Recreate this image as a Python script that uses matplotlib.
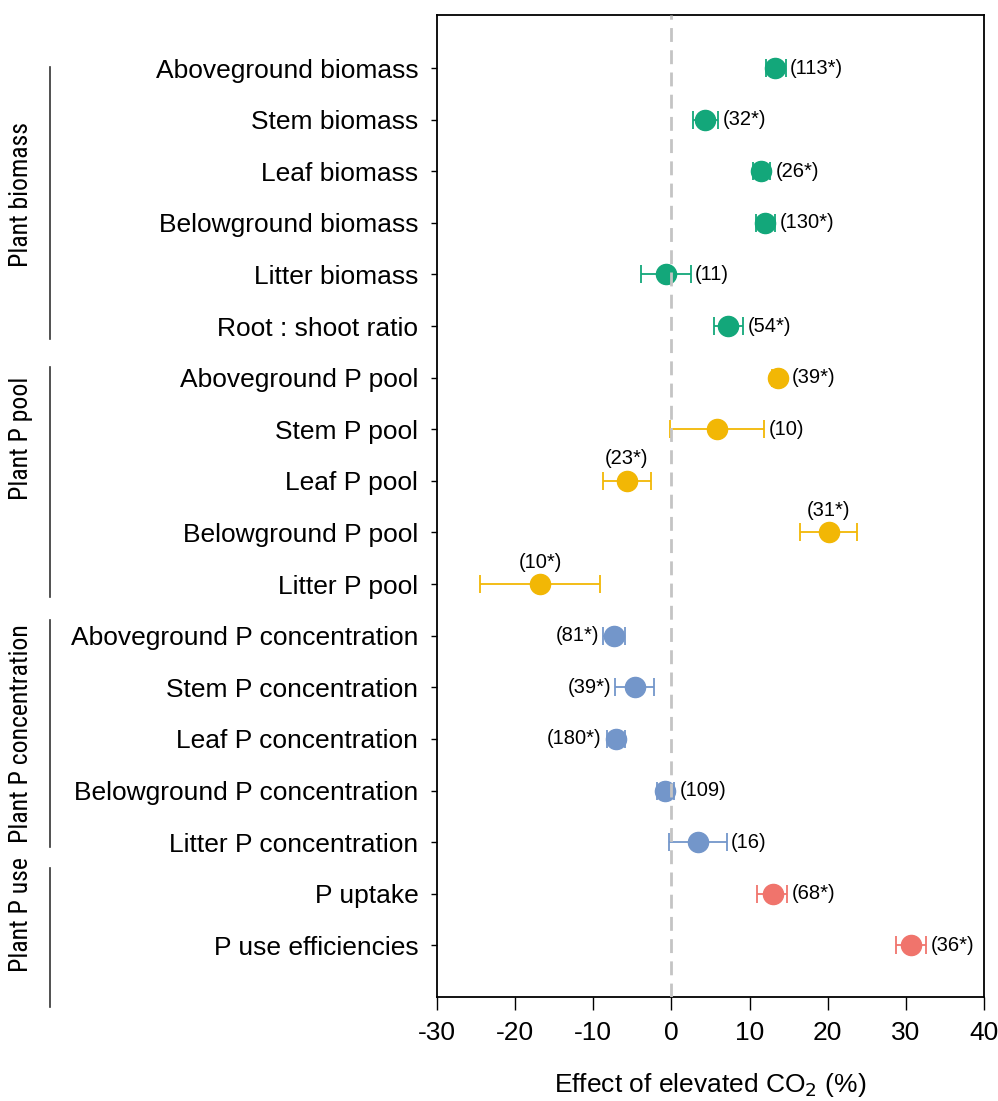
import numpy as np
import matplotlib
matplotlib.use("Agg")
import matplotlib.pyplot as plt
import matplotlib.transforms as mtransforms
from matplotlib import font_manager

plt.rcParams['font.family'] = ['Liberation Sans', 'DejaVu Sans']
plt.rcParams['axes.unicode_minus'] = False

# response variables, top to bottom
labels = ["Aboveground biomass", "Stem biomass", "Leaf biomass",
          "Belowground biomass", "Litter biomass", "Root : shoot ratio",
          "Aboveground P pool", "Stem P pool", "Leaf P pool",
          "Belowground P pool", "Litter P pool",
          "Aboveground P concentration", "Stem P concentration",
          "Leaf P concentration", "Belowground P concentration",
          "Litter P concentration", "P uptake", "P use efficiencies"]

# mean effect (%) and 95% CI
effect = [13.3, 4.3, 11.5, 12.0, -0.7, 7.3,
          13.6, 5.8, -5.7, 20.1, -16.8,
          -7.4, -4.7, -7.1, -0.8, 3.4,
          13.0, 30.6]
ci_low = [12.1, 2.7, 10.4, 10.8, -3.9, 5.4,
          12.9, -0.2, -8.7, 16.5, -24.5,
          -8.7, -7.2, -8.2, -1.9, -0.3,
          11.0, 28.7]
ci_high = [14.6, 6.0, 12.6, 13.2, 2.5, 9.2,
           14.3, 11.9, -2.6, 23.8, -9.2,
           -5.9, -2.2, -6.0, 0.3, 7.1,
           14.8, 32.6]

# sample sizes (* = significant)
n_text = ["(113*)", "(32*)", "(26*)", "(130*)", "(11)", "(54*)",
          "(39*)", "(10)", "(23*)", "(31*)", "(10*)",
          "(81*)", "(39*)", "(180*)", "(109)", "(16)",
          "(68*)", "(36*)"]
n_pos = ["right"] * 8 + ["above"] * 3 + ["left"] * 3 + ["right"] * 4

group = [0] * 6 + [1] * 5 + [2] * 5 + [3] * 2
group_names = ["Plant biomass", "Plant P pool", "Plant P concentration", "Plant P use"]
group_colors = ["#13A77A", "#F2B705", "#7396CA", "#F0746C"]

# narrow face for the group names if one is around
narrow = None
for f in font_manager.fontManager.ttflist:
    if f.name in ("Liberation Sans Narrow", "Roboto Condensed", "Open Sans Condensed",
                  "Arial Narrow"):
        narrow = f.name
        break
    if f.name == "DejaVu Sans" and "condensed" in str(f.stretch):
        narrow = "DejaVu Sans"
if narrow:
    grp_font = dict(family=[narrow, "Liberation Sans"], fontstretch="condensed", fontsize=18.5)
else:
    grp_font = dict(family=["Liberation Sans"], fontsize=13)

fig = plt.figure(figsize=(9.98, 11.01), dpi=100)
ax = fig.add_axes([0.4379, 0.0945, 0.5481, 0.892])

rows = np.arange(len(labels))
r_dot = 1.3  # marker radius in data units

ax.axvline(0, color="#C4C4C4", lw=2.0, ls=(0, (5, 3)), zorder=5)

for i in rows:
    c = group_colors[group[i]]
    v = effect[i]
    ax.errorbar(v, i, xerr=[[v - ci_low[i]], [ci_high[i] - v]], fmt="o",
                color=c, ms=14.5, mec=c, elinewidth=1.3, capsize=6.5,
                capthick=1.3, zorder=3)
    if n_pos[i] == "right":
        x0 = max(ci_high[i], v + r_dot)
        ax.annotate(n_text[i], (x0, i), xytext=(3, 0), textcoords="offset points",
                    ha="left", va="center", fontsize=14.5)
    elif n_pos[i] == "left":
        x0 = min(ci_low[i], v - r_dot)
        ax.annotate(n_text[i], (x0, i), xytext=(-3, 0), textcoords="offset points",
                    ha="right", va="center", fontsize=14.5)
    else:
        ax.annotate(n_text[i], (v, i), xytext=(0, 9), textcoords="offset points",
                    ha="center", va="bottom", fontsize=14.5)

ax.set_xlim(-30, 40)
ax.set_ylim(18, -1.03)
ax.set_xticks(np.arange(-30, 41, 10))
ax.set_yticks(rows)
ax.set_yticklabels(labels)
ax.tick_params(axis="y", length=4.5, width=1, pad=9, labelsize=19)
ax.tick_params(axis="x", length=9, width=1, pad=8, labelsize=19)
for s in ax.spines.values():
    s.set_linewidth(1.3)
ax.set_xlabel("Effect of elevated CO$_2$ (%)", fontsize=19, labelpad=19)

# group brackets down the left margin
trans = mtransforms.blended_transform_factory(fig.transFigure, ax.transData)
spans = [(-0.02, 5.26), (5.8, 10.25), (10.7, 15.1), (15.5, 18.2)]
text_mid = [2.46, 7.18, 12.9, 16.4]
for k, (a, b) in enumerate(spans):
    ax.plot([0.0501, 0.0501], [a, b], color="#333333", lw=1.2,
            transform=trans, clip_on=False)
    ax.text(0.021, text_mid[k], group_names[k], rotation=90, ha="center",
            va="center", transform=trans, **grp_font)

fig.savefig("out.png", dpi=100)
